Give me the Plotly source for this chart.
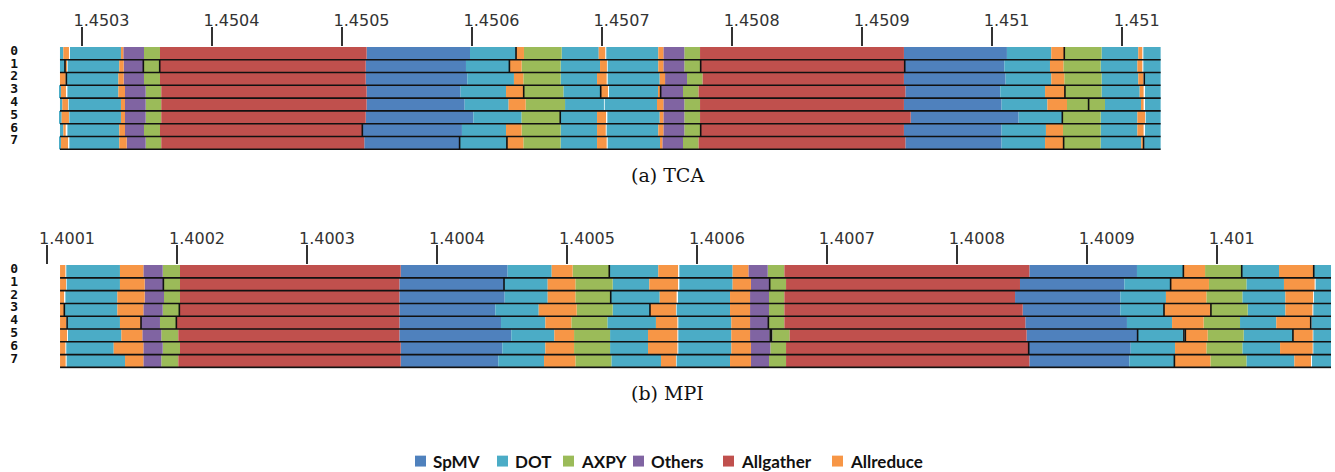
import plotly.graph_objects as go

# Kernel categories and their colours
CATEGORIES = ["SpMV", "DOT", "AXPY", "Others", "Allgather", "Allreduce"]
COLORS = ["#4F81BD", "#4BACC6", "#9BBB59", "#8064A2", "#C0504D", "#F79646"]
CODES = {"S": "SpMV", "D": "DOT", "A": "AXPY", "O": "Others", "G": "Allgather", "R": "Allreduce"}
RANKS = list(range(8))

# ---- (a) TCA : segments (kernel, start, end) in microseconds after TCA_T0 seconds
TCA_T0 = 1.4503
TCA_ROWS = [
    [("D", -16.7, -14.1), ("R", -14.1, -9.8), ("D", -9.0, 30.2), ("R", 30.2, 32.0), ("O", 32.0, 47.9),
     ("A", 47.9, 60.2), ("G", 60.2, 219.1), ("S", 219.1, 298.6), ("D", 298.6, 334.0), ("R", 334.0, 340.1),
     ("A", 340.1, 369.1), ("D", 369.1, 397.6), ("R", 397.6, 402.6), ("D", 403.4, 443.4), ("R", 443.4, 447.3),
     ("O", 447.3, 463.4), ("A", 463.4, 475.5), ("G", 475.5, 632.3), ("S", 632.3, 711.5), ("D", 711.5, 745.6),
     ("R", 745.6, 755.6), ("A", 755.6, 784.3), ("D", 784.3, 812.5), ("R", 812.5, 815.6), ("D", 816.4, 829.7)],
    [("D", -16.7, -12.85), ("R", -12.85, -11.3), ("D", -10.8, 28.9), ("R", 28.9, 32.3), ("O", 32.3, 47.4),
     ("A", 47.4, 60.2), ("G", 60.2, 218.4), ("S", 218.4, 295.5), ("D", 295.5, 328.9), ("R", 328.9, 338.3),
     ("A", 338.3, 368.3), ("D", 368.3, 398.6), ("R", 398.6, 403.9), ("D", 404.5, 443.4), ("R", 443.4, 447.3),
     ("O", 447.3, 463.4), ("A", 463.4, 476.0), ("G", 476.0, 632.9), ("S", 632.9, 709.5), ("D", 709.5, 744.6),
     ("R", 744.6, 754.9), ("A", 754.9, 783.6), ("D", 783.6, 811.8), ("R", 811.8, 815.6), ("D", 816.4, 829.7)],
    [("R", -16.7, -12.3), ("D", -11.8, 28.2), ("R", 28.2, 32.3), ("O", 32.3, 47.9), ("A", 47.9, 60.2),
     ("G", 60.2, 218.4), ("S", 218.4, 296.5), ("D", 296.5, 332.4), ("R", 332.4, 339.6), ("A", 339.6, 368.3),
     ("D", 368.3, 396.3), ("R", 396.3, 403.7), ("D", 404.5, 444.5), ("R", 444.5, 448.6), ("O", 448.6, 465.5),
     ("A", 465.5, 477.5), ("G", 477.5, 632.3), ("S", 632.3, 710.5), ("D", 710.5, 745.6), ("R", 745.6, 755.6),
     ("A", 755.6, 784.3), ("D", 784.3, 812.5), ("R", 812.5, 816.4), ("D", 817.1, 829.7)],
    [("D", -16.7, -15.9), ("R", -15.9, -12.1), ("D", -11.0, 28.2), ("R", 28.2, 33.3), ("O", 33.3, 49.2),
     ("A", 49.2, 61.2), ("G", 61.2, 219.1), ("S", 219.1, 291.4), ("D", 291.4, 326.3), ("R", 326.3, 339.9),
     ("A", 339.9, 370.4), ("D", 370.4, 399.1), ("R", 399.1, 404.7), ("D", 405.5, 443.9), ("R", 443.9, 445.2),
     ("O", 445.2, 462.4), ("A", 462.4, 474.4), ("G", 474.4, 633.4), ("S", 633.4, 706.4), ("D", 706.4, 740.8),
     ("R", 740.8, 756.1), ("A", 756.1, 784.3), ("D", 784.3, 813.6), ("R", 813.6, 816.6), ("D", 817.7, 829.7)],
    [("D", -16.7, -14.9), ("R", -14.9, -10.5), ("D", -10.0, 30.2), ("R", 30.2, 33.3), ("O", 33.3, 49.2),
     ("A", 49.2, 61.2), ("G", 61.2, 219.1), ("S", 219.1, 294.5), ("D", 294.5, 328.3), ("R", 328.3, 341.4),
     ("A", 341.4, 371.7), ("D", 371.7, 401.6), ("D", 402.2, 442.4), ("R", 442.4, 447.3), ("O", 447.3, 463.4),
     ("A", 463.4, 475.5), ("G", 475.5, 632.3), ("S", 632.3, 707.4), ("D", 707.4, 742.6), ("R", 742.6, 757.7),
     ("A", 757.7, 786.9), ("D", 786.9, 814.6), ("R", 814.6, 816.6), ("D", 817.7, 829.7)],
    [("D", -16.7, -15.4), ("R", -15.4, -9.8), ("D", -9.5, 30.2), ("R", 30.2, 33.3), ("O", 33.3, 49.2),
     ("A", 49.2, 61.2), ("G", 61.2, 218.4), ("S", 218.4, 301.2), ("D", 301.2, 338.3), ("A", 338.3, 368.0),
     ("D", 368.0, 396.3), ("R", 396.3, 403.2), ("D", 404.2, 444.5), ("R", 444.5, 447.3), ("O", 447.3, 463.4),
     ("A", 463.4, 475.5), ("G", 475.5, 637.5), ("S", 637.5, 720.5), ("D", 720.5, 754.1), ("A", 754.1, 783.6),
     ("D", 783.6, 811.8), ("R", 811.8, 817.7), ("D", 818.2, 829.7)],
    [("D", -16.7, -14.1), ("R", -14.1, -12.3), ("D", -11.0, 28.9), ("R", 28.9, 33.3), ("O", 33.3, 47.9),
     ("A", 47.9, 60.2), ("G", 60.2, 215.8), ("S", 215.8, 292.4), ("D", 292.4, 326.3), ("R", 326.3, 338.3),
     ("A", 338.3, 368.3), ("D", 368.3, 396.3), ("R", 396.3, 403.0), ("D", 403.7, 443.4), ("R", 443.4, 447.3),
     ("O", 447.3, 463.4), ("A", 463.4, 476.0), ("G", 476.0, 632.3), ("S", 632.3, 707.4), ("D", 707.4, 741.5),
     ("R", 741.5, 754.6), ("A", 754.6, 783.6), ("D", 783.6, 811.8), ("R", 811.8, 816.6), ("D", 817.7, 829.7)],
    [("D", -16.7, -15.9), ("R", -15.9, -10.5), ("D", -9.5, 28.9), ("R", 28.9, 34.6), ("O", 34.6, 49.2),
     ("A", 49.2, 61.2), ("G", 61.2, 217.3), ("S", 217.3, 290.6), ("D", 290.6, 327.0), ("R", 327.0, 339.6),
     ("A", 339.6, 368.3), ("D", 368.3, 396.3), ("R", 396.3, 403.7), ("D", 404.5, 445.0), ("R", 445.0, 446.5),
     ("O", 446.5, 462.4), ("A", 462.4, 474.4), ("G", 474.4, 633.4), ("S", 633.4, 707.4), ("D", 707.4, 740.8),
     ("R", 740.8, 755.1), ("A", 755.1, 783.6), ("D", 783.6, 814.8), ("R", 814.8, 816.6), ("D", 817.1, 829.7)],
]
# synchronisation points per rank (microseconds after TCA_T0)
TCA_SYNC = [
    [334.0, 755.6],
    [-12.85, 47.4, 60.0, 328.9, 476.0, 632.9],
    [-11.8, 817.1],
    [339.9, 399.1, 445.2, 756.1],
    [774.3],
    [368.0, 754.1],
    [215.8, 476.0],
    [290.6, 327.0, 755.1, 816.6],
]
TCA_TICKS = [1.4503, 1.4504, 1.4505, 1.4506, 1.4507, 1.4508, 1.4509, 1.4510, 1.4511]
TCA_TICKTEXT = ["1.4503", "1.4504", "1.4505", "1.4506", "1.4507", "1.4508", "1.4509", "1.451", "1.451"]

# ---- (b) MPI : segments (kernel, start, end) in microseconds after MPI_T0 seconds
MPI_T0 = 1.4001
MPI_ROWS = [
    [("R", 9.8, 13.9), ("D", 14.6, 55.9), ("R", 55.9, 73.9), ("O", 73.9, 88.8), ("A", 88.8, 102.1),
     ("G", 102.1, 271.9), ("S", 271.9, 354.2), ("D", 354.2, 388.1), ("R", 388.1, 404.2), ("A", 404.2, 432.4),
     ("D", 432.4, 470.1), ("R", 470.1, 485.3), ("D", 486.3, 527.3), ("R", 527.3, 539.4), ("O", 539.4, 554.3),
     ("A", 554.3, 567.1), ("G", 567.1, 755.6), ("S", 755.6, 838.4), ("D", 838.4, 874.1), ("R", 874.1, 890.8),
     ("A", 890.8, 919.0), ("D", 919.0, 947.7), ("R", 947.7, 973.9), ("D", 974.6, 987.7)],
    [("R", 9.8, 14.4), ("D", 14.9, 55.9), ("R", 55.9, 74.9), ("O", 74.9, 89.3), ("A", 89.3, 102.1),
     ("G", 102.1, 270.9), ("S", 270.9, 351.4), ("D", 351.4, 385.0), ("R", 385.0, 406.3), ("A", 406.3, 435.0),
     ("D", 435.0, 463.2), ("R", 463.2, 485.3), ("D", 486.3, 527.3), ("R", 527.3, 541.4), ("O", 541.4, 555.8),
     ("A", 555.8, 568.4), ("G", 568.4, 748.4), ("S", 748.4, 828.7), ("D", 828.7, 864.3), ("R", 864.3, 893.8),
     ("A", 893.8, 922.6), ("D", 922.6, 951.5), ("R", 951.5, 975.1), ("D", 975.9, 987.7)],
    [("R", 9.8, 12.9), ("D", 13.9, 53.9), ("R", 53.9, 74.9), ("O", 74.9, 89.8), ("A", 89.8, 102.1),
     ("G", 102.1, 270.9), ("S", 270.9, 351.9), ("D", 351.9, 385.0), ("R", 385.0, 406.3), ("A", 406.3, 433.5),
     ("D", 433.5, 471.2), ("R", 471.2, 484.2), ("D", 485.3, 525.3), ("R", 525.3, 540.7), ("O", 540.7, 555.3),
     ("A", 555.3, 567.1), ("G", 567.1, 744.6), ("S", 744.6, 825.6), ("D", 825.6, 860.7), ("R", 860.7, 891.8),
     ("A", 891.8, 919.5), ("D", 919.5, 952.6), ("R", 952.6, 973.9), ("D", 974.6, 987.7)],
    [("R", 9.8, 12.9), ("D", 13.6, 53.9), ("R", 53.9, 73.9), ("O", 73.9, 88.8), ("A", 88.8, 101.6),
     ("G", 101.6, 270.9), ("S", 270.9, 344.7), ("D", 344.7, 378.1), ("R", 378.1, 407.3), ("A", 407.3, 435.0),
     ("D", 435.0, 463.7), ("R", 463.7, 483.7), ("D", 484.2, 525.3), ("R", 525.3, 540.7), ("O", 540.7, 555.3),
     ("A", 555.3, 567.1), ("G", 567.1, 750.5), ("S", 750.5, 825.6), ("D", 825.6, 859.2), ("R", 859.2, 895.3),
     ("A", 895.3, 923.6), ("D", 923.6, 952.6), ("R", 952.6, 973.4), ("D", 974.1, 987.7)],
    [("R", 9.8, 14.4), ("D", 15.2, 55.9), ("R", 55.9, 72.1), ("O", 72.1, 86.7), ("A", 86.7, 99.3),
     ("G", 99.3, 270.9), ("S", 270.9, 349.1), ("D", 349.1, 383.2), ("R", 383.2, 403.2), ("A", 403.2, 430.9),
     ("D", 430.9, 468.3), ("R", 468.3, 484.8), ("D", 485.5, 526.3), ("R", 526.3, 540.7), ("O", 540.7, 554.8),
     ("A", 554.8, 567.1), ("G", 567.1, 752.5), ("S", 752.5, 830.7), ("D", 830.7, 865.4), ("R", 865.4, 889.7),
     ("A", 889.7, 917.7), ("D", 917.7, 945.6), ("R", 945.6, 971.8), ("D", 972.8, 987.7)],
    [("R", 9.8, 15.2), ("D", 15.9, 57.0), ("R", 57.0, 73.1), ("O", 73.1, 87.7), ("A", 87.7, 100.8),
     ("G", 100.8, 270.9), ("S", 270.9, 357.0), ("D", 357.0, 390.1), ("R", 390.1, 405.3), ("A", 405.3, 433.0),
     ("D", 433.0, 462.2), ("R", 462.2, 484.8), ("D", 485.5, 526.3), ("R", 526.3, 540.7), ("O", 540.7, 555.6),
     ("A", 557.9, 571.2), ("G", 571.2, 753.5), ("S", 753.5, 838.9), ("D", 838.9, 873.8), ("R", 876.1, 892.8),
     ("A", 892.8, 920.5), ("D", 920.5, 958.4), ("R", 958.4, 973.6), ("D", 974.1, 987.7)],
    [("R", 9.8, 13.9), ("D", 14.6, 51.1), ("R", 51.1, 73.9), ("O", 73.9, 88.8), ("A", 88.8, 102.1),
     ("G", 102.1, 271.9), ("S", 271.9, 350.1), ("D", 350.1, 383.2), ("R", 383.2, 405.3), ("A", 405.3, 433.0),
     ("D", 433.0, 462.2), ("R", 462.2, 484.8), ("D", 485.5, 526.3), ("R", 526.3, 541.4), ("O", 541.4, 556.3),
     ("A", 556.3, 568.4), ("G", 568.4, 755.1), ("S", 755.1, 833.6), ("D", 833.6, 867.7), ("R", 867.7, 891.8),
     ("A", 891.8, 919.5), ("D", 919.5, 948.5), ("R", 948.5, 973.6), ("D", 974.1, 987.7)],
    [("R", 9.8, 14.1), ("D", 14.9, 59.8), ("R", 59.8, 73.9), ("O", 73.9, 87.7), ("A", 87.7, 100.8),
     ("G", 100.8, 271.9), ("S", 271.9, 347.0), ("D", 347.0, 382.2), ("R", 382.2, 406.3), ("A", 406.3, 434.0),
     ("D", 434.0, 472.2), ("R", 472.2, 483.7), ("D", 484.2, 525.3), ("R", 525.3, 541.4), ("O", 541.4, 555.3),
     ("A", 555.3, 568.4), ("G", 568.4, 755.6), ("S", 755.6, 832.5), ("D", 832.5, 867.2), ("R", 867.2, 894.9),
     ("A", 894.9, 922.6), ("D", 922.6, 959.5), ("R", 959.5, 972.3), ("D", 973.1, 987.7)],
]
MPI_SYNC = [
    [432.4, 874.1, 919.0, 974.4],
    [89.3, 351.4, 555.8, 864.3],
    [433.5],
    [13.1, 101.6, 463.7, 859.2, 895.3],
    [15.2, 72.1, 99.3, 554.8, 972.1],
    [556.2, 557.2, 838.9, 874.5, 875.6, 958.4],
    [755.1],
    [867.2],
]
MPI_TICKS = [1.4001, 1.4002, 1.4003, 1.4004, 1.4005, 1.4006, 1.4007, 1.4008, 1.4009, 1.4010]
MPI_TICKTEXT = ["1.4001", "1.4002", "1.4003", "1.4004", "1.4005", "1.4006", "1.4007", "1.4008", "1.4009", "1.401"]

US = 1e-6
W, H = 1335, 472

fig = go.Figure()


def add_panel(rows, sync, t0, xa, ya):
    for cat, color in zip(CATEGORIES, COLORS):
        ys, bases, lens = [], [], []
        for r, segs in enumerate(rows):
            for code, a, b in segs:
                if CODES[code] == cat:
                    ys.append(r)
                    bases.append(t0 + a * US)
                    lens.append((b - a) * US)
        fig.add_trace(go.Bar(
            orientation="h", y=ys, x=lens, base=bases, width=1.0, offset=-0.5,
            marker=dict(color=color, line=dict(width=0)), name=cat,
            xaxis=xa, yaxis=ya, showlegend=False, hoverinfo="skip"))
    # separator line under every rank
    lx, ly = [], []
    for r, segs in enumerate(rows):
        lx += [t0 + segs[0][1] * US, t0 + segs[-1][2] * US, None]
        ly += [r + 0.5, r + 0.5, None]
    fig.add_trace(go.Scatter(x=lx, y=ly, mode="lines", line=dict(color="#111", width=1.6),
                             xaxis=xa, yaxis=ya, showlegend=False, hoverinfo="skip"))
    # synchronisation ticks
    mx, my = [], []
    for r, ts in enumerate(sync):
        for t in ts:
            mx += [t0 + t * US, t0 + t * US, None]
            my += [r - 0.5, r + 0.5, None]
    fig.add_trace(go.Scatter(x=mx, y=my, mode="lines", line=dict(color="#111", width=1.6),
                             xaxis=xa, yaxis=ya, showlegend=False, hoverinfo="skip"))


add_panel(TCA_ROWS, TCA_SYNC, TCA_T0, "x", "y")
add_panel(MPI_ROWS, MPI_SYNC, MPI_T0, "x2", "y2")

LEFT = 38 / W
xcommon = dict(domain=[LEFT, 1], side="top", ticks="outside", ticklen=19, tickwidth=1.5,
               tickcolor="#333", showgrid=False, zeroline=False, showline=False,
               tickfont=dict(family="DejaVu Sans", size=16, color="#333"),
               ticklabelposition="outside right", ticklabelshift=-9, ticklabelstandoff=14)
ycommon = dict(range=[7.6, -0.5], tickvals=RANKS, ticktext=[str(r) for r in RANKS],
               showgrid=False, zeroline=False, showline=False, ticks="",
               tickfont=dict(family="DejaVu Sans Mono", size=13, color="#111", weight="bold"),
               ticklabelstandoff=19, ticklabelshift=3)

fig.update_layout(
    width=W, height=H, margin=dict(l=0, r=0, t=0, b=0),
    paper_bgcolor="white", plot_bgcolor="white", barmode="overlay",
    xaxis=dict(xcommon, anchor="y", range=[1.450266395, 1.45126378],
               tickvals=TCA_TICKS, ticktext=TCA_TICKTEXT),
    yaxis=dict(ycommon, anchor="x", domain=[1 - 147.8 / H, 1 - 43.3 / H]),
    xaxis2=dict(xcommon, anchor="y2", range=[1.400092844, 1.40109077],
                tickvals=MPI_TICKS, ticktext=MPI_TICKTEXT),
    yaxis2=dict(ycommon, anchor="x2", domain=[1 - 367.8 / H, 1 - 263.3 / H]),
)

# panel captions
cap_font = dict(family="DejaVu Serif", size=19, color="#111")
fig.add_annotation(text="(a) TCA", x=667 / W, y=1 - 172.5 / H, xref="paper", yref="paper",
                   showarrow=False, font=cap_font, xanchor="center", yanchor="middle")
fig.add_annotation(text="(b) MPI", x=667 / W, y=1 - 392.5 / H, xref="paper", yref="paper",
                   showarrow=False, font=cap_font, xanchor="center", yanchor="middle")

# legend: swatch + label per kernel
LEGEND_LEFT_PX = [415, 497, 563, 633, 723, 832]
SW = 11
LEG_Y = 461
for cat, color, px in zip(CATEGORIES, COLORS, LEGEND_LEFT_PX):
    fig.add_shape(type="rect", xref="paper", yref="paper",
                  x0=px / W, x1=(px + SW) / W, y0=1 - (LEG_Y + SW / 2) / H, y1=1 - (LEG_Y - SW / 2) / H,
                  fillcolor=color, line=dict(width=0))
    fig.add_annotation(text=cat, x=(px + SW + 5) / W, y=1 - LEG_Y / H, xref="paper", yref="paper",
                       showarrow=False, xanchor="left", yanchor="middle",
                       font=dict(family="Lato", size=17, color="#111", weight="bold"))

fig.write_html("out.html")
